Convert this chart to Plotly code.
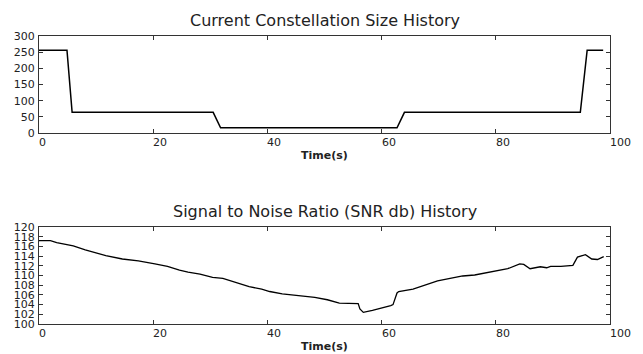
import plotly.graph_objects as go
from plotly.subplots import make_subplots

# Constellation size history
const_t = [0, 4.9, 5.8, 30.5, 31.8, 62.7, 64.0, 94.8, 96.0, 98.8]
const_v = [256, 256, 64, 64, 16, 16, 64, 64, 256, 256]

# SNR history
snr_t = [0, 2.0, 3.1, 6.0, 8.1, 10.3, 11.7, 14.6, 17.4, 20.3, 22.5, 24.6, 26.1, 28.2,
         30.4, 32.2, 34.7, 36.8, 39.0, 40.4, 42.6, 45.4, 48.3, 50.5, 52.6, 55.9, 56.2,
         56.8, 58.4, 61.6, 62.0, 62.7, 63.0, 65.5, 67.7, 69.8, 72.0, 74.2, 76.3, 79.2,
         82.1, 84.2, 84.9, 86.0, 87.8, 88.9, 89.6, 91.4, 93.5, 94.3, 95.7, 96.8, 97.8, 98.9]
snr_v = [117.2, 117.2, 116.8, 116.1, 115.3, 114.6, 114.1, 113.4, 113.0, 112.4, 111.9,
         111.1, 110.7, 110.3, 109.6, 109.4, 108.5, 107.7, 107.2, 106.7, 106.2, 105.8,
         105.5, 105.0, 104.3, 104.2, 103.1, 102.4, 102.8, 103.8, 104.0, 106.4, 106.7,
         107.2, 108.0, 108.9, 109.4, 109.9, 110.1, 110.7, 111.4, 112.4, 112.3, 111.4,
         111.8, 111.6, 111.9, 111.9, 112.1, 113.8, 114.3, 113.4, 113.3, 113.9]

x_ticks = [0, 20, 40, 60, 80, 100]
top_y_ticks = [0, 50, 100, 150, 200, 250, 300]
bot_y_ticks = list(range(100, 121, 2))
titles = ["Current Constellation Size History", "Signal to Noise Ratio (SNR db) History"]
x_label = "Time(s)"

FONT = "DejaVu Sans"
INK = "#222222"

# page body adds an 8px offset; figure sized to the visible area
W, H = 635, 346
fig = make_subplots(rows=2, cols=1, vertical_spacing=0.3264)
fig.add_trace(go.Scatter(x=const_t, y=const_v, mode="lines",
                         line=dict(color="black", width=1.5)), row=1, col=1)
fig.add_trace(go.Scatter(x=snr_t, y=snr_v, mode="lines",
                         line=dict(color="black", width=1.3)), row=2, col=1)

axis_common = dict(showline=True, linecolor="#333333", linewidth=1.2, mirror="allticks",
                   ticks="inside", ticklen=4, tickcolor="#333333", tickwidth=1,
                   showgrid=False, zeroline=False, automargin=False)

for r in (1, 2):
    fig.update_xaxes(range=[0, 100], tickvals=x_ticks, showticklabels=False,
                     row=r, col=1, **axis_common)

fig.update_yaxes(range=[0, 300], tickvals=top_y_ticks, row=1, col=1,
                 tickfont=dict(family=FONT, size=11, color=INK), ticklabelstandoff=1,
                 **axis_common)
fig.update_yaxes(range=[100, 120], tickvals=bot_y_ticks, row=2, col=1,
                 tickfont=dict(family=FONT, size=11, color=INK), ticklabelstandoff=1,
                 **axis_common)

annotations = []
for i, (xr, yr) in enumerate([("x", "y domain"), ("x2", "y2 domain")]):
    for t in x_ticks:
        annotations.append(dict(x=t, y=0, xref=xr, yref=yr, text=str(t), showarrow=False,
                                xanchor="left", yanchor="top", yshift=-1, xshift=-2,
                                font=dict(family=FONT, size=11, color=INK)))
    annotations.append(dict(x=0.5, y=0, xref=xr + " domain", yref=yr,
                            text="<b>" + x_label + "</b>", showarrow=False,
                            xanchor="center", yanchor="top", yshift=-14,
                            font=dict(family=FONT, size=11, color=INK)))
    annotations.append(dict(x=0.5, y=1, xref=xr + " domain", yref=yr, text=titles[i],
                            showarrow=False, xanchor="center", yanchor="bottom", yshift=4,
                            font=dict(family=FONT, size=16, color=INK)))
fig.update_layout(annotations=annotations)

fig.update_layout(width=W, height=H, margin=dict(l=31, r=33, t=28, b=30, autoexpand=False),
                  paper_bgcolor="white", plot_bgcolor="white", showlegend=False)

fig.write_html("out.html")
